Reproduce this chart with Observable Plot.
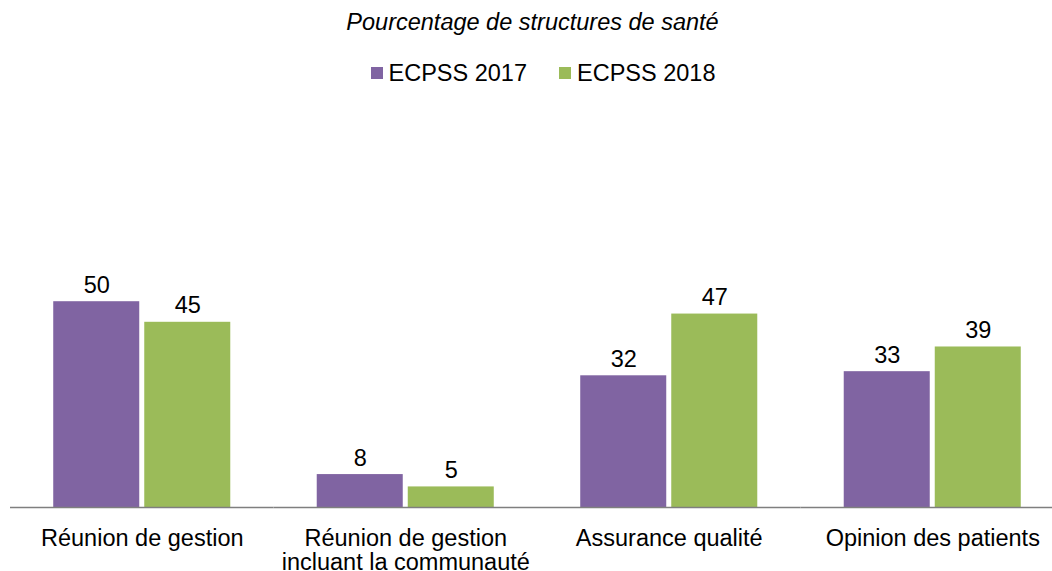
<!DOCTYPE html>
<html>
<head>
<meta charset="utf-8">
<script src="https://cdn.jsdelivr.net/npm/d3@7"></script>
<script src="https://cdn.jsdelivr.net/npm/@observablehq/plot@0.6"></script>
<style>
  html, body { margin: 0; padding: 0; background: #fff; overflow: hidden; width: 1052px; height: 571px; }
  body { font-family: "Liberation Sans", Arial, sans-serif; color: #000; }
  #title { height: 44px; line-height: 44px; font-size: 23.5px; font-style: italic; text-align: center; padding-left: 13px; box-sizing: border-box; width: 1052px; }
  #legend { height: 58px; display: flex; align-items: center; justify-content: center; padding-left: 34px; box-sizing: border-box; width: 1052px; font-size: 23.5px; }
  .item { display: flex; align-items: center; }
  .item + .item { margin-left: 32px; }
  .sw { width: 12px; height: 12px; margin-right: 6px; }
  #chart svg { display: block; max-width: none !important; }
</style>
</head>
<body>
<div id="title">Pourcentage de structures de santé</div>
<div id="legend"></div>
<div id="chart"></div>
<script>
const categories = ["Réunion de gestion", "Réunion de gestion incluant la communauté", "Assurance qualité", "Opinion des patients"];
const tickLabels = ["Réunion de gestion", "Réunion de gestion\nincluant la communauté", "Assurance qualité", "Opinion des patients"];
const series = ["ECPSS 2017", "ECPSS 2018"];
const values2017 = [50, 8, 32, 33];
const values2018 = [45, 5, 47, 39];
const colors = ["#8064A2", "#9BBB59"];

const data = [];
categories.forEach((c, i) => {
  data.push({cat: c, serie: series[0], value: values2017[i]});
  data.push({cat: c, serie: series[1], value: values2018[i]});
});

const legend = document.getElementById("legend");
series.forEach((s, i) => {
  const it = document.createElement("div");
  it.className = "item";
  const sw = document.createElement("span");
  sw.className = "sw";
  sw.style.background = colors[i];
  const tx = document.createElement("span");
  tx.textContent = s;
  it.appendChild(sw); it.appendChild(tx);
  legend.appendChild(it);
});

const chart = Plot.plot({
  width: 1064,
  height: 469,
  marginLeft: 10,
  marginRight: 0,
  marginTop: 14,
  marginBottom: 64,
  style: {fontFamily: "'Liberation Sans', Arial, sans-serif", fontSize: "23.5px", color: "#000", background: "#fff", maxWidth: "none"},
  fx: {domain: categories, padding: 0, label: null, axis: null, round: false},
  x: {domain: series, paddingInner: 0.055, paddingOuter: 0.475, axis: null, round: false},
  y: {domain: [0, 95], axis: null},
  color: {domain: series, range: colors},
  marks: [
    Plot.barY(data, {fx: "cat", x: "serie", y: "value", fill: "serie"}),
    Plot.ruleY([0], {stroke: "#7f7f7f", strokeWidth: 1.3}),
    Plot.text(data, {fx: "cat", x: "serie", y: "value", text: d => String(d.value), lineAnchor: "bottom", dy: -9, fill: "#000", fontSize: 23.5}),
    Plot.axisFx({anchor: "bottom", tickSize: 0, tickPadding: 22, fontSize: 23.5, lineHeight: 1.0, tickFormat: d => tickLabels[categories.indexOf(d)], label: null, fill: "#000"})
  ]
});
document.getElementById("chart").appendChild(chart);
</script>
</body>
</html>
